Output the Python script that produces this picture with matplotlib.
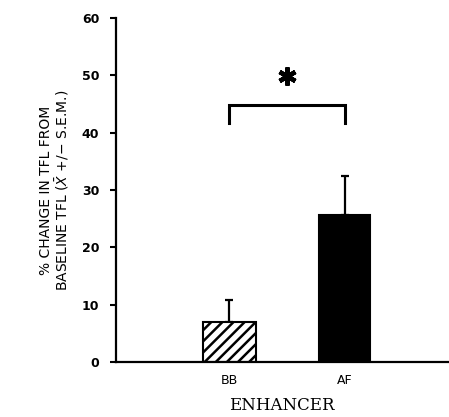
import numpy as np
import matplotlib.pyplot as plt

groups = ['BB', 'AF']
means = [7.0, 25.6]
sems = [3.8, 6.9]
yticks = [0, 10, 20, 30, 40, 50, 60]

plt.rcParams['hatch.linewidth'] = 1.8
plt.rcParams['mathtext.fontset'] = 'dejavusans'

fig = plt.figure(figsize=(4.49, 4.17), dpi=100)
ax = fig.add_axes([0.258, 0.132, 0.74, 0.825])

x = np.array([1, 2])
ax.bar(x[0], means[0], width=0.46, color='white', edgecolor='black',
       hatch='///', linewidth=1.5, zorder=2)
ax.bar(x[1], means[1], width=0.45, color='black', edgecolor='black',
       linewidth=1.5, zorder=2)
ax.errorbar(x, means, yerr=[np.zeros(2), sems], fmt='none', ecolor='black',
            elinewidth=1.6, capsize=3, capthick=1.6, zorder=1)

# significance bracket
ax.plot([1, 1, 2, 2], [41.7, 44.9, 44.9, 41.7], color='black', lw=2.2,
        solid_joinstyle='miter')
ax.plot([1.5], [49.8], marker=(6, 2, 0), markersize=13, mew=3.2,
        color='black')

ax.set_xlim(0.013, 2.9)
ax.set_ylim(0, 60)
ax.set_yticks(yticks)
ax.set_xticks(x)
ax.set_xticklabels(groups, fontsize=9)
ax.tick_params(axis='x', length=0, pad=9)
ax.tick_params(axis='y', length=4, width=1.5, direction='out', labelsize=9,
               pad=8)
for lab in ax.get_yticklabels():
    lab.set_fontweight('bold')

for s in ['top', 'right']:
    ax.spines[s].set_visible(False)
for s in ['left', 'bottom']:
    ax.spines[s].set_linewidth(1.6)

ax.set_ylabel('% CHANGE IN TFL FROM\nBASELINE TFL ($\\bar{X}$ +/\u2212 S.E.M.)',
              fontsize=10, linespacing=1.0, labelpad=8)
ax.set_xlabel('ENHANCER', fontsize=12, family='DejaVu Serif', labelpad=7)

fig.savefig('out.png', dpi=100)
